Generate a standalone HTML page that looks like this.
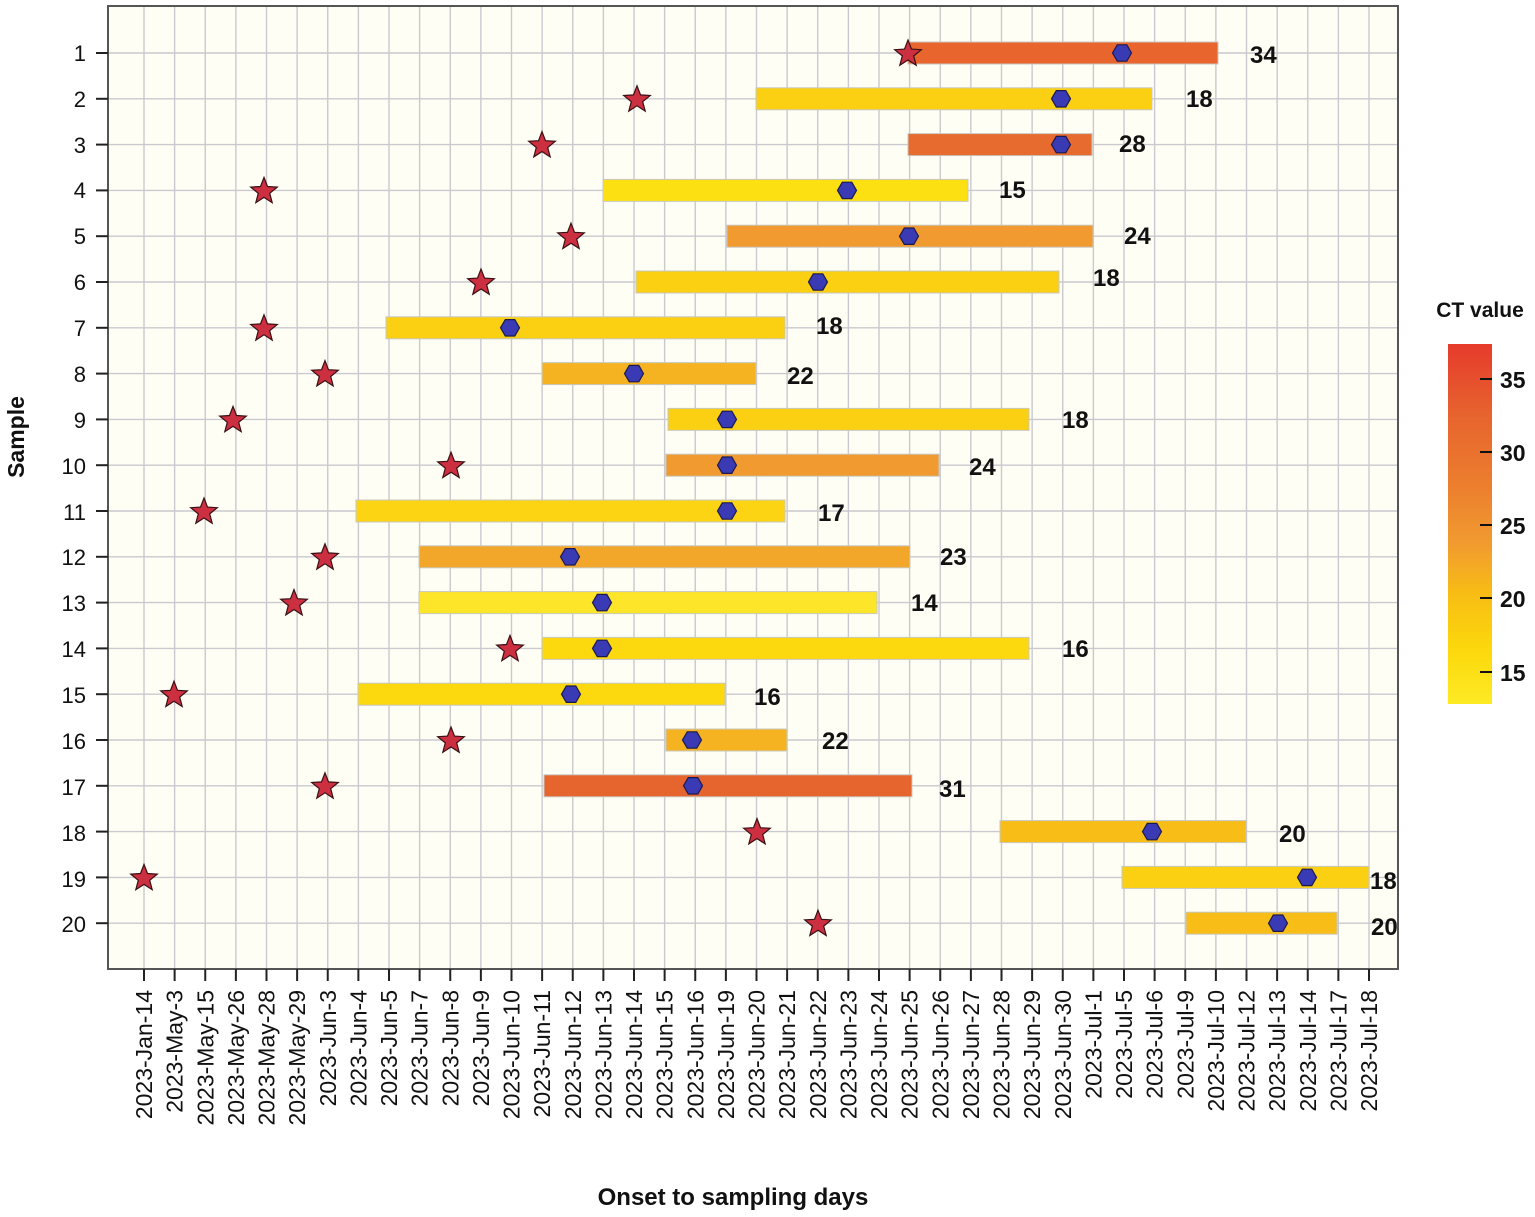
<!DOCTYPE html>
<html><head><meta charset="utf-8"><style>
html,body{margin:0;padding:0;background:#fff;}
svg{display:block;font-family:"Liberation Sans",Arial,sans-serif;}
</style></head><body>
<svg id="s" width="1535" height="1217" viewBox="0 0 1535 1217" xmlns="http://www.w3.org/2000/svg">
<defs>
<linearGradient id="lg" x1="0" y1="1" x2="0" y2="0">
<stop offset="0" stop-color="#fdea24"/>
<stop offset="0.15" stop-color="#fcd80c"/>
<stop offset="0.3" stop-color="#f8be14"/>
<stop offset="0.45" stop-color="#f19a30"/>
<stop offset="0.6" stop-color="#ec7f2e"/>
<stop offset="0.8" stop-color="#e7642e"/>
<stop offset="1" stop-color="#e63b2c"/>
</linearGradient>
</defs>
<rect x="108" y="6" width="1290" height="963" fill="#fffef4"/>
<g id="grid" stroke="#c9c9cf" stroke-width="1.4"></g>
<g id="bars"></g>
<g id="marks"></g>
<rect x="108" y="6" width="1290" height="963" fill="none" stroke="#555" stroke-width="2"/>
<g id="ticks" stroke="#222" stroke-width="2"></g>
<g font-size="22" fill="#111" text-anchor="end">
<text x="86" y="61">1</text><text x="86" y="107">2</text><text x="86" y="153">3</text><text x="86" y="198">4</text><text x="86" y="244">5</text><text x="86" y="290">6</text><text x="86" y="336">7</text><text x="86" y="382">8</text><text x="86" y="428">9</text><text x="86" y="474">10</text><text x="86" y="520">11</text><text x="86" y="565">12</text><text x="86" y="611">13</text><text x="86" y="657">14</text><text x="86" y="703">15</text><text x="86" y="749">16</text><text x="86" y="795">17</text><text x="86" y="841">18</text><text x="86" y="887">19</text><text x="86" y="932">20</text>
</g>
<g id="xl" font-size="23" fill="#111" text-anchor="end"></g>
<g font-size="24" font-weight="bold" fill="#111">
<text x="1250" y="63">34</text><text x="1186" y="107">18</text><text x="1119" y="152">28</text><text x="999" y="198">15</text><text x="1124" y="244">24</text><text x="1093" y="286">18</text><text x="816" y="334">18</text><text x="787" y="384">22</text><text x="1062" y="428">18</text><text x="969" y="475">24</text><text x="818" y="521">17</text><text x="940" y="565">23</text><text x="911" y="611">14</text><text x="1062" y="657">16</text><text x="754" y="705">16</text><text x="822" y="749">22</text><text x="939" y="797">31</text><text x="1279" y="842">20</text><text x="1370" y="889">18</text><text x="1371" y="935">20</text>
</g>
<text x="0" y="0" transform="translate(24,437) rotate(-90)" text-anchor="middle" font-size="23" font-weight="bold" fill="#111">Sample</text>
<text x="733" y="1205" text-anchor="middle" font-size="24" font-weight="bold" fill="#111">Onset to sampling days</text>
<text x="1480" y="317" text-anchor="middle" font-size="21" font-weight="bold" fill="#111">CT value</text>
<rect x="1448" y="344" width="44" height="360" fill="url(#lg)"/>
<g stroke="#111" stroke-width="2"><line x1="1480" y1="379" x2="1492" y2="379"/><line x1="1480" y1="452" x2="1492" y2="452"/><line x1="1480" y1="525" x2="1492" y2="525"/><line x1="1480" y1="598" x2="1492" y2="598"/><line x1="1480" y1="672" x2="1492" y2="672"/></g>
<g font-size="23" font-weight="bold" fill="#111"><text x="1500" y="388">35</text><text x="1500" y="461">30</text><text x="1500" y="534">25</text><text x="1500" y="607">20</text><text x="1500" y="681">15</text></g>
</svg>
<script>
var NS="http://www.w3.org/2000/svg";
function el(p,t,a){var e=document.createElementNS(NS,t);for(var k in a)e.setAttribute(k,a[k]);document.getElementById(p).appendChild(e);return e;}
var labs=["Jan-14","May-3","May-15","May-26","May-28","May-29","Jun-3","Jun-4","Jun-5","Jun-7","Jun-8","Jun-9","Jun-10","Jun-11","Jun-12","Jun-13","Jun-14","Jun-15","Jun-16","Jun-19","Jun-20","Jun-21","Jun-22","Jun-23","Jun-24","Jun-25","Jun-26","Jun-27","Jun-28","Jun-29","Jun-30","Jul-1","Jul-5","Jul-6","Jul-9","Jul-10","Jul-12","Jul-13","Jul-14","Jul-17","Jul-18"];
for(var i=0;i<41;i++){var x=144+30.625*i;
el("grid","line",{x1:x,y1:6,x2:x,y2:969});
el("ticks","line",{x1:x,y1:969,x2:x,y2:981});
var t=el("xl","text",{transform:"translate("+(x+8)+",990) rotate(-90)"});t.textContent="2023-"+labs[i];}
for(var r=0;r<20;r++){var y=53+45.8*r;
el("grid","line",{x1:108,y1:y,x2:1398,y2:y});
el("ticks","line",{x1:96,y1:y,x2:108,y2:y});}
var D=[[908,908,1218,1122,"#e8652e"],[637,756,1152,1061,"#fbcf12"],[542,908,1092,1061,"#e76a2e"],[264,603,968,847,"#fde012"],[571,727,1093,909,"#f09a30"],[481,636,1059,818,"#fbd012"],[264,386,785,510,"#fbcf12"],[325,542,756,634,"#f5b321"],[233,668,1029,727,"#fbd012"],[451,666,939,727,"#f09a30"],[204,356,785,727,"#fcd414"],[325,419,910,570,"#f3a72a"],[294,419,877,602,"#fde52a"],[510,542,1029,602,"#fcd80f"],[174,358,725,571,"#fcd80f"],[451,666,787,692,"#f5b321"],[325,544,912,693,"#e6642e"],[757,1000,1246,1152,"#f8bd16"],[144,1122,1369,1307,"#fbcf12"],[818,1186,1337,1278,"#f8bd16"]];
D.forEach(function(d,r){var y=53+45.8*r;
el("bars","rect",{x:d[1],y:y-11,width:d[2]-d[1],height:22,fill:d[4],stroke:"#c8c8c0","stroke-width":1});
var p=[];for(var k=0;k<6;k++){var a=k*Math.PI/3;p.push((d[3]+9.5*Math.cos(a)).toFixed(1)+","+(y+9.5*Math.sin(a)).toFixed(1));}
el("marks","polygon",{points:p.join(" "),fill:"#3a3ab4",stroke:"#1a1a50","stroke-width":1.2});
var s=[];for(var k=0;k<10;k++){var a=-Math.PI/2+k*Math.PI/5,rr=k%2?6:14;s.push((d[0]+rr*Math.cos(a)).toFixed(1)+","+(y+1+rr*Math.sin(a)).toFixed(1));}
el("marks","polygon",{points:s.join(" "),fill:"#cc3040",stroke:"#3a1015","stroke-width":1.2});
});
</script>
</body></html>
